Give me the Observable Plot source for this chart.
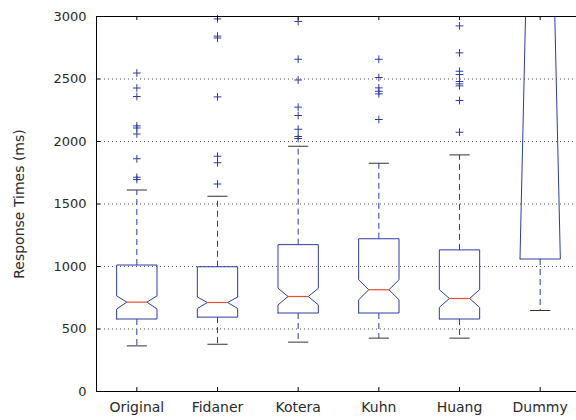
<!DOCTYPE html>
<html><head><meta charset="utf-8">
<script src="https://cdn.jsdelivr.net/npm/d3@7"></script>
<script src="https://cdn.jsdelivr.net/npm/@observablehq/plot@0.6"></script>
<style>
body{margin:0;background:#fff}
#chart svg{font-family:"DejaVu Sans",sans-serif;background:#fff}
</style>
</head><body><div id="chart"></div>
<script>
const categories = ["Original", "Fidaner", "Kotera", "Kuhn", "Huang", "Dummy"];
const q1        = [580, 595, 628, 628, 580, 1060];
const median    = [715, 712, 760, 814, 744, 4600];
const q3        = [1012, 998, 1175, 1222, 1133, 9000];
const notchLo   = [660, 664, 693, 734, 673, 1060];
const notchHi   = [765, 756, 826, 894, 815, 8140];
const whiskerLo = [365, 378, 395, 427, 427, 648];
const whiskerHi = [1612, 1562, 1962, 1826, 1893, 12000];
const outliers = [
  [2548, 2428, 2360, 2125, 2108, 2060, 1862, 1714, 1696],
  [2981, 2843, 2828, 2357, 1882, 1830, 1660],
  [2960, 2658, 2492, 2275, 2208, 2098, 2040, 2024],
  [2658, 2512, 2429, 2402, 2381, 2176],
  [2925, 2709, 2562, 2536, 2480, 2461, 2445, 2328, 2074],
  []
];
const yTicks = [0, 500, 1000, 1500, 2000, 2500, 3000];

const W = 0.25; // box half-width (category units)
const rows = categories.map((c, i) => ({c, i, q1: q1[i], med: median[i], q3: q3[i], nLo: notchLo[i], nHi: notchHi[i], wLo: whiskerLo[i], wHi: whiskerHi[i]}));
const outline = [];
rows.forEach(r => {
  const i = r.i;
  [[i-W, r.q1], [i-W, r.nLo], [i-W/2, r.med], [i-W, r.nHi], [i-W, r.q3],
   [i+W, r.q3], [i+W, r.nHi], [i+W/2, r.med], [i+W, r.nLo], [i+W, r.q1], [i-W, r.q1]]
   .forEach(([x, y]) => outline.push({c: r.c, x, y}));
});
const fliers = [];
outliers.forEach((arr, i) => arr.forEach(v => fliers.push({i, v})));

const blue = "#2d3ca6";
const ML = 96, MR = -4, MT = 16, MB = 29, H = 420, Wd = 576;
const plotW = Wd - ML - MR, plotH = H - MT - MB;

const chart = Plot.plot({
  width: Wd, height: H,
  marginLeft: ML, marginRight: MR, marginTop: MT, marginBottom: MB,
  style: {fontFamily: "DejaVu Sans, sans-serif", fontSize: "13px", color: "#2a2a2a", background: "#fff"},
  x: {type: "linear", domain: [-0.5, categories.length - 0.5]},
  y: {domain: [0, 3000]},
  marks: [
    Plot.gridY(yTicks.filter(t => t > 0 && t < 3000), {stroke: "#000", strokeOpacity: 0.7, strokeDasharray: "1,3"}),
    Plot.link(rows, {x1: "i", x2: "i", y1: "q3", y2: "wHi", stroke: blue, strokeDasharray: "6,4", clip: true}),
    Plot.link(rows, {x1: "i", x2: "i", y1: "q1", y2: "wLo", stroke: blue, strokeDasharray: "6,4", clip: true}),
    Plot.link(rows, {x1: d => d.i - W/2, x2: d => d.i + W/2, y1: "wHi", y2: "wHi", stroke: "#333", clip: true}),
    Plot.link(rows, {x1: d => d.i - W/2, x2: d => d.i + W/2, y1: "wLo", y2: "wLo", stroke: "#333", clip: true}),
    Plot.line(outline, {x: "x", y: "y", z: "c", stroke: blue, strokeWidth: 1, clip: true}),
    Plot.link(rows, {x1: d => d.i - W/2, x2: d => d.i + W/2, y1: "med", y2: "med", stroke: "#f04a25", strokeWidth: 1.2, clip: true}),
    Plot.dot(fliers, {x: "i", y: "v", symbol: "plus", r: 2.6, stroke: blue, strokeWidth: 1}),
    Plot.ruleY(yTicks, {stroke: "#000", insetRight: plotW - 4}),
    Plot.ruleX(d3.range(categories.length), {stroke: "#000", insetTop: plotH - 4}),
    Plot.ruleX(d3.range(categories.length), {stroke: "#000", insetBottom: plotH - 4}),
    Plot.frame({stroke: "#000"}),
    Plot.axisY(yTicks, {tickSize: 0, tickPadding: 10, fontSize: 13, tickFormat: d => String(d), label: null}),
    Plot.axisY({tickSize: 0, ticks: [], fontSize: 14, label: "Response Times (ms)", labelAnchor: "center", labelArrow: "none", labelOffset: 82}),
    Plot.axisX(d3.range(categories.length), {tickSize: 0, tickPadding: 11, fontSize: 14, tickFormat: i => categories[i], label: null})
  ]
});
document.getElementById("chart").append(chart);
</script>
</body></html>
